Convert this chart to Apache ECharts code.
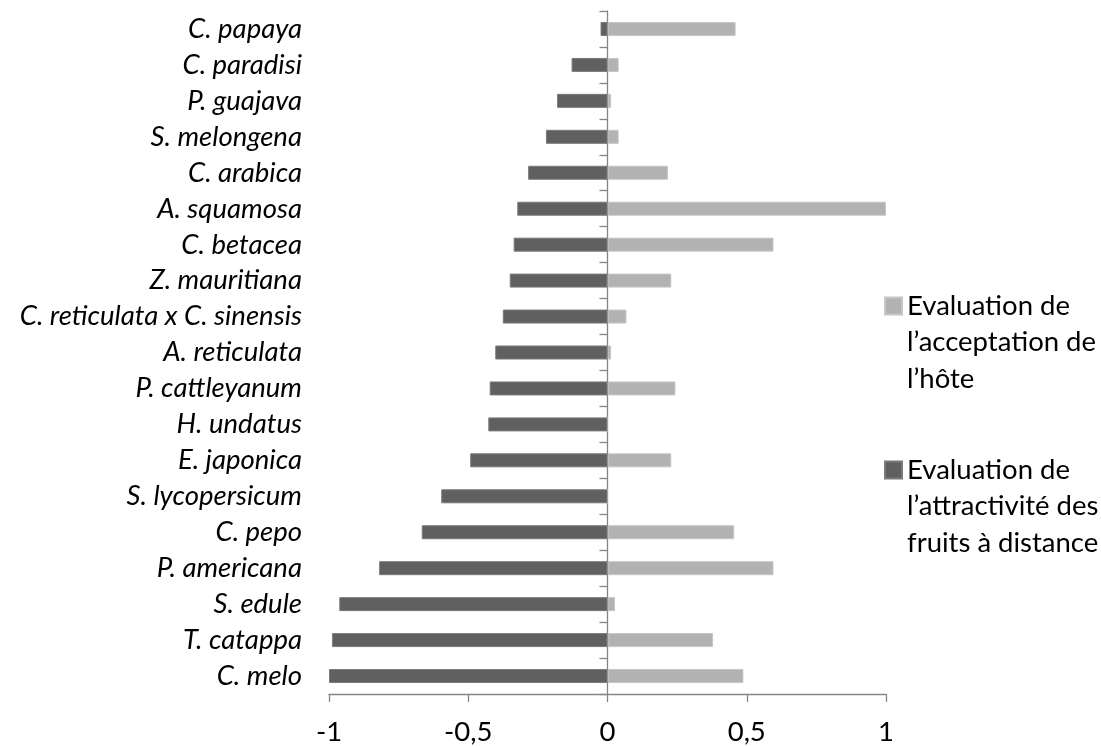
<!DOCTYPE html>
<html>
<head>
<meta charset="utf-8">
<script src="https://cdn.jsdelivr.net/npm/echarts@6/dist/echarts.min.js"></script>
<style>html,body{margin:0;padding:0;background:#fff}#c{width:1101px;height:746px}</style>
</head>
<body>
<div id="c"></div>
<script>
// Categories, top to bottom
const species = ['C. papaya','C. paradisi','P. guajava','S. melongena','C. arabica','A. squamosa','C. betacea','Z. mauritiana','C. reticulata x C. sinensis','A. reticulata','P. cattleyanum','H. undatus','E. japonica','S. lycopersicum','C. pepo','P. americana','S. edule','T. catappa','C. melo'];
// Evaluation de l'attractivité des fruits à distance (dark)
const attractivite = [-0.025,-0.129,-0.181,-0.221,-0.285,-0.324,-0.337,-0.351,-0.376,-0.403,-0.423,-0.428,-0.493,-0.597,-0.667,-0.82,-0.963,-0.989,-1.0];
// Evaluation de l'acceptation de l'hôte (light)
const acceptation = [0.46,0.04,0.013,0.04,0.217,1.0,0.596,0.229,0.068,0.013,0.244,0,0.229,0,0.455,0.596,0.027,0.379,0.488];
const xTicks = [-1,-0.5,0,0.5,1];

const nameAccept = 'Evaluation de\nl\u2019acceptation de\nl\u2019h\u00f4te';
const nameAttract = 'Evaluation de\nl\u2019attractivit\u00e9 des\nfruits \u00e0 distance';
const FONT = 'Lato, "Open Sans", sans-serif';
const FS = 27.5;
const LH = 36.5;
const axisGrey = '#868686';

const chart = echarts.init(document.getElementById('c'), null, {renderer: 'canvas'});
const legendCommon = {
  orient: 'vertical', left: 884, padding: 0, icon: 'rect',
  itemWidth: 17, itemHeight: 17, selectedMode: false,
  formatter: n => '\n\n' + n,
  textStyle: {fontFamily: FONT, fontSize: FS, color: '#000', lineHeight: LH}
};
chart.setOption({
  animation: false,
  backgroundColor: '#fff',
  grid: {left: 329, right: 215, top: 11, bottom: 51, containLabel: false},
  legend: [
    Object.assign({}, legendCommon, {top: 306 - 2.5 * LH, data: [nameAccept]}),
    Object.assign({}, legendCommon, {top: 470 - 2.5 * LH, data: [nameAttract]})
  ],
  xAxis: {
    type: 'value', min: xTicks[0], max: xTicks[xTicks.length - 1], interval: 0.5,
    position: 'bottom',
    axisLine: {show: true, onZero: false, lineStyle: {color: axisGrey, width: 1.3}},
    axisTick: {show: true, length: 8, lineStyle: {color: axisGrey, width: 1.3}},
    splitLine: {show: false},
    axisLabel: {fontFamily: FONT, fontSize: FS, color: '#000', margin: 24,
      formatter: v => String(v).replace('.', ',')}
  },
  yAxis: [
    {
      type: 'category', data: species, inverse: true, position: 'left',
      axisLine: {show: false, onZero: false},
      axisTick: {show: false},
      axisLabel: {fontFamily: FONT, fontSize: FS, fontStyle: 'italic', color: '#000', margin: 27}
    },
    {
      type: 'category', data: species, inverse: true, position: 'left',
      axisLine: {show: true, onZero: true, lineStyle: {color: axisGrey, width: 1.3}},
      axisTick: {show: true, length: 8, lineStyle: {color: axisGrey, width: 1.3}},
      axisLabel: {show: false}
    }
  ],
  series: [
    {
      name: nameAccept, type: 'bar', data: acceptation, yAxisIndex: 0,
      barWidth: 14, barGap: '-100%',
      itemStyle: {color: '#b2b2b2', borderColor: '#c6c6c6', borderWidth: 1}
    },
    {
      name: nameAttract, type: 'bar', data: attractivite, yAxisIndex: 0,
      barWidth: 14, barGap: '-100%',
      itemStyle: {color: '#606060', borderColor: '#7a7a7a', borderWidth: 1}
    }
  ]
});
</script>
</body>
</html>
